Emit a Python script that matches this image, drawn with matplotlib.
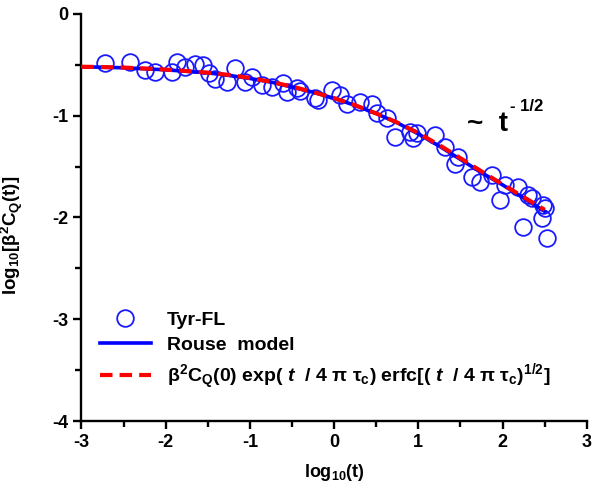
import matplotlib
matplotlib.use('Agg')
import matplotlib.pyplot as plt
from matplotlib.ticker import MultipleLocator

plt.rcParams['font.family'] = ['Liberation Sans', 'DejaVu Sans']
plt.rcParams['mathtext.fontset'] = 'custom'
plt.rcParams['mathtext.rm'] = 'Liberation Sans'
plt.rcParams['mathtext.it'] = 'Liberation Sans:italic:bold'
plt.rcParams['mathtext.bf'] = 'Liberation Sans:bold'
plt.rcParams['mathtext.default'] = 'regular'
plt.rcParams['axes.unicode_minus'] = False

# Tyr-FL data
tyr_x = [-2.72, -2.42, -2.25, -2.13, -1.93, -1.87, -1.77, -1.65, -1.56, -1.49,
         -1.41, -1.27, -1.18, -1.06, -0.97, -0.86, -0.74, -0.61, -0.56, -0.44,
         -0.40, -0.23, -0.19, -0.03, 0.07, 0.15, 0.31, 0.45, 0.51, 0.63,
         0.72, 0.90, 0.94, 0.98, 1.20, 1.32, 1.44, 1.47, 1.64, 1.73,
         1.88, 1.97, 2.03, 2.18, 2.24, 2.30, 2.35, 2.48, 2.47, 2.50, 2.53]
tyr_y = [-0.48, -0.47, -0.55, -0.57, -0.57, -0.47, -0.52, -0.49, -0.50, -0.58,
         -0.64, -0.67, -0.53, -0.67, -0.62, -0.70, -0.72, -0.68, -0.77, -0.73,
         -0.76, -0.83, -0.85, -0.75, -0.80, -0.89, -0.87, -0.89, -0.97, -1.02,
         -1.21, -1.16, -1.22, -1.17, -1.19, -1.31, -1.48, -1.41, -1.60, -1.65,
         -1.58, -1.83, -1.68, -1.70, -2.09, -1.78, -1.81, -1.88, -2.01, -1.91, -2.20]

# model curves
model_x = [-3.0, -2.75, -2.5, -2.25, -2.0, -1.75, -1.5, -1.25, -1.0, -0.75, -0.5, -0.25,
           0.0, 0.25, 0.5, 0.75, 1.0, 1.25, 1.5, 1.75, 2.0, 2.25, 2.5]
rouse_y = [-0.52, -0.525, -0.53, -0.54, -0.55, -0.565, -0.58, -0.605, -0.635, -0.67, -0.72, -0.77,
           -0.83, -0.90, -0.98, -1.07, -1.18, -1.30, -1.43, -1.56, -1.68, -1.81, -1.94]
erfc_y = [-0.52, -0.523, -0.528, -0.537, -0.548, -0.562, -0.578, -0.60, -0.63, -0.668, -0.715, -0.768,
          -0.828, -0.898, -0.978, -1.068, -1.172, -1.29, -1.418, -1.548, -1.675, -1.80, -1.925]

fig = plt.figure(figsize=(6.03, 4.93), dpi=100)
ax = fig.add_axes([0.135, 0.146, 0.838, 0.826])

ax.plot(tyr_x, tyr_y, 'o', ms=12, mfc='none', mec='#1a1aff', mew=1.3, label='Tyr-FL', zorder=2)
ax.plot(model_x, rouse_y, '-', color='#0000ff', lw=2.6, label='Rouse  model', zorder=3)
ax.plot(model_x, erfc_y, '--', color='#ff0000', lw=3.0, dashes=(3, 1.7),
        label=r'$\beta^2$C$_Q$(0) exp( $\mathit{t}$  / 4 $\pi$ $\tau_c$) erfc[( $\mathit{t}$  / 4 $\pi$ $\tau_c$)$^{1/2}$]',
        zorder=4)

ax.set_xlim(-3, 3)
ax.set_ylim(-4, 0)
ax.xaxis.set_major_locator(MultipleLocator(1))
ax.xaxis.set_minor_locator(MultipleLocator(0.5))
ax.yaxis.set_major_locator(MultipleLocator(1))
ax.yaxis.set_minor_locator(MultipleLocator(0.5))
for s in ['top', 'right']:
    ax.spines[s].set_visible(False)
for s in ['left', 'bottom']:
    ax.spines[s].set_linewidth(1.7)
ax.tick_params(which='major', direction='out', length=6, width=1.7, labelsize=13)
ax.tick_params(which='minor', direction='out', length=4, width=1.7)
for lab in ax.get_xticklabels() + ax.get_yticklabels():
    lab.set_fontweight('bold')

ax.set_xlabel(r'log$_{10}$(t)', fontsize=13, fontweight='bold')
ax.xaxis.set_label_coords(0.5, -0.10)
ax.set_ylabel(r'log$_{10}$[$\beta^2$C$_Q$(t)]', fontsize=13.5, fontweight='bold')
ax.yaxis.set_label_coords(-0.112, 0.455)

ax.text(0.763, 0.713, '~  t', transform=ax.transAxes, fontsize=20, fontweight='bold', va='baseline')
ax.text(0.848, 0.762, '- 1/2', transform=ax.transAxes, fontsize=12, fontweight='bold', va='baseline')

ax.legend(loc='upper left', bbox_to_anchor=(0.166, 0.368), bbox_transform=fig.transFigure,
          frameon=False, prop={'size': 14, 'weight': 'bold'}, handlelength=2.6, handletextpad=0.85,
          labelspacing=0.38, borderpad=0, borderaxespad=0)

fig.savefig('out.png', dpi=100)
